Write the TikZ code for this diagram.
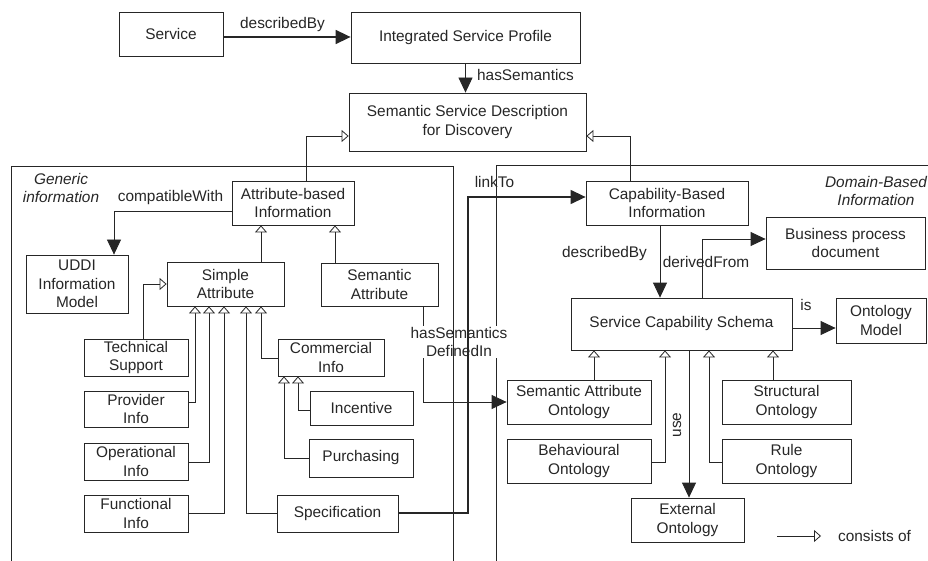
\documentclass[tikz,border=0pt]{standalone}
\usepackage{fontspec}
\setmainfont{Liberation Sans}
\usetikzlibrary{arrows.meta,calc}
\newcommand\lbfont{\fontsize{15.4}{18.5}\selectfont}
\tikzset{
  every node/.style={font=\lbfont, text=black!85},
  box/.style={draw=black!85, line width=0.8pt, inner sep=0pt, align=center},
  lbl/.style={inner sep=1pt, align=center},
  conn/.style={draw=black!85, line width=0.8pt},
  inh/.style={conn, -{Triangle[length=7pt,width=12pt,fill=white]}},
  arr/.style={conn, -{Triangle[length=15pt,width=14pt]}},
}
\begin{document}
\begin{tikzpicture}[x=1pt,y=-1pt]
\useasboundingbox (0,0) rectangle (928,561);

% upper chain
\node[box, minimum width=104pt, minimum height=44pt] (service) at (171,34) {Service};
\node[box, minimum width=229pt, minimum height=51pt] (isp) at (465.5,37.5) {Integrated Service Profile};
\node[box, minimum width=237pt, minimum height=58pt] (ssd) at (467.5,122) {Semantic Service Description\\for Discovery};

% generic information part
\node[box, minimum width=122pt, minimum height=44pt] (attr) at (293,203) {Attribute-based\\Information};
\node[box, minimum width=102pt, minimum height=58pt] (uddi) at (77,284) {UDDI\\Information\\Model};
\node[box, minimum width=117pt, minimum height=44pt] (simple) at (225.5,284) {Simple\\Attribute};
\node[box, minimum width=117pt, minimum height=43pt] (semattr) at (379.5,284.5) {Semantic\\Attribute};
\node[box, minimum width=104pt, minimum height=37pt] (tech) at (136,357.5) {Technical\\Support};
\node[box, minimum width=104pt, minimum height=36pt] (prov) at (136,409) {Provider\\Info};
\node[box, minimum width=104pt, minimum height=37pt] (oper) at (136,461.5) {Operational\\Info};
\node[box, minimum width=104pt, minimum height=37pt] (func) at (136,513.5) {Functional\\Info};
\node[box, minimum width=106pt, minimum height=37pt] (comm) at (331,357.5) {Commercial\\Info};
\node[box, minimum width=103pt, minimum height=34pt] (incent) at (361.5,408) {Incentive};
\node[box, minimum width=104pt, minimum height=38pt] (purch) at (361,458) {Purchasing};
\node[box, minimum width=121pt, minimum height=37pt] (spec) at (337.5,513.5) {Specification};

% domain-based part
\node[box, minimum width=162pt, minimum height=44pt] (cap) at (667,203) {Capability-Based\\Information};
\node[box, minimum width=159pt, minimum height=52pt] (bpd) at (845.5,243) {Business process\\document};
\node[box, minimum width=221pt, minimum height=52pt] (scs) at (681.5,324) {Service Capability Schema};
\node[box, minimum width=90pt, minimum height=45pt] (ont) at (881,320.5) {Ontology\\Model};
\node[box, minimum width=144pt, minimum height=44pt] (sao) at (579,402) {Semantic Attribute\\Ontology};
\node[box, minimum width=144pt, minimum height=44pt] (beh) at (579,461) {Behavioural\\Ontology};
\node[box, minimum width=129pt, minimum height=44pt] (struc) at (786.5,402) {Structural\\Ontology};
\node[box, minimum width=129pt, minimum height=44pt] (rule) at (786.5,461) {Rule\\Ontology};
\node[box, minimum width=113pt, minimum height=44pt] (ext) at (687.5,520) {External\\Ontology};

% region frames (open at the bottom)
\draw[conn] (496,561) -- (496,165) -- (928,165);
\draw[conn] (11,561) -- (11,166) -- (453,166);

% semantic attribute to its ontology, label laid over the frame line
\draw[arr] (423,0 |- semattr.south) |- (sao.west);
\node[lbl, fill=white] (lhsdi) at (459,342) {hasSemantics\\DefinedIn};
\draw[conn] (453,166) -- (453,561);

% top connectors
\draw[arr, line width=1.6pt] (service.east |- 0,37) -- (isp.west |- 0,37);
\node[lbl] (ldesc) at (282.5,25) {describedBy};
\draw[arr] (isp.south) -- (isp.south |- ssd.north);
\node[lbl] (lhassem) at (525.5,75) {hasSemantics};
\draw[inh] (306,0 |- attr.north) |- (ssd.west |- 0,136);
\draw[inh] (630,0 |- cap.north) |- (ssd.east |- 0,136);

% generic information connectors
\node[lbl, font=\lbfont\itshape] (lgen) at (61,188) {Generic\\information};
\draw[arr] (attr.west |- 0,211) -| (114,0 |- uddi.north);
\node[lbl] (lcompat) at (170.5,198) {compatibleWith};
\draw[inh] (261,0 |- simple.north) -- (261,0 |- attr.south);
\draw[inh] (335,0 |- semattr.north) -- (335,0 |- attr.south);
\draw[inh] (143,0 |- tech.north) |- (simple.west);
\draw[inh] (prov.east |- 0,402) -| (195,0 |- simple.south);
\draw[inh] (oper.east |- 0,462) -| (209,0 |- simple.south);
\draw[inh] (func.east |- 0,513) -| (224,0 |- simple.south);
\draw[inh] (spec.west |- 0,513) -| (246,0 |- simple.south);
\draw[inh] (comm.west |- 0,358) -| (261,0 |- simple.south);
\draw[inh] (incent.west |- 0,410) -| (298,0 |- comm.south);
\draw[inh] (purch.west) -| (284,0 |- comm.south);

% specification linked to capability information
\coordinate (lk) at (468,197);
\draw[arr, line width=1.3pt] (spec.east |- 0,513) -| (lk) -- (lk -| cap.west);
\node[lbl] (llink) at (494.5,182) {linkTo};

% domain-based connectors
\node[lbl, font=\lbfont\itshape] (ldom) at (876,191) {Domain-Based\\Information};
\draw[arr] (660,0 |- cap.south) -- (660,0 |- scs.north);
\node[lbl] (ldescby) at (604.5,254) {describedBy};
\draw[arr] (702,0 |- scs.north) |- (bpd.west |- 0,239);
\node[lbl] (lderived) at (706,262) {derivedFrom};
\draw[arr] (scs.east |- 0,328) -- (ont.west |- 0,328);
\node[lbl] (lis) at (806,305) {is};
\draw[inh] (594,0 |- sao.north) -- (594,0 |- scs.south);
\draw[inh] (beh.east |- 0,462) -| (665,0 |- scs.south);
\draw[inh] (rule.west |- 0,462) -| (709,0 |- scs.south);
\draw[inh] (773,0 |- struc.north) -- (773,0 |- scs.south);
\draw[arr] (689,0 |- scs.south) -- (689,0 |- ext.north);
\node[lbl, rotate=90] (luse) at (677,425) {use};

% legend
\coordinate (lgA) at (777,536);
\coordinate (lgB) at (821,536);
\draw[inh] (lgA) -- (lgB);
\node[lbl] (lcons) at (874.5,536) {consists of};
\end{tikzpicture}
\end{document}
